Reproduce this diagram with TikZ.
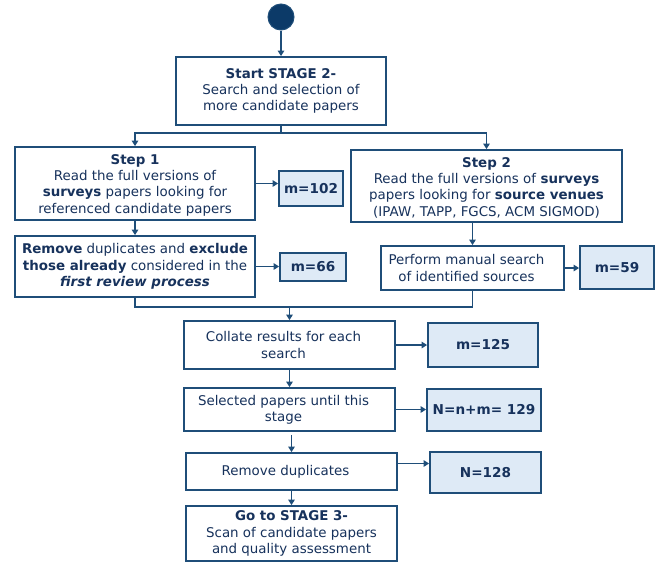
\documentclass[tikz,border=0pt]{standalone}
\usepackage{fontspec}
\setmainfont{DejaVu Sans}
\usetikzlibrary{arrows.meta}
\definecolor{lineblue}{RGB}{31,78,121}
\definecolor{navytext}{RGB}{23,50,92}
\definecolor{countfill}{RGB}{222,234,246}
\definecolor{dotfill}{RGB}{12,58,104}
\tikzset{
  flowbox/.style={draw=lineblue, line width=1.8pt, fill=white, text=navytext,
    align=center, inner sep=0pt, font=\fontsize{13.4}{16.3}\selectfont},
  countbox/.style={flowbox, fill=countfill, font=\fontsize{13.6}{16}\selectfont\bfseries},
  link/.style={draw=lineblue, line width=1.7pt},
  arr/.style={link, -{Triangle[width=6.5pt,length=5.5pt]}},
}
% pushes a centred line a little to the left
\newcommand{\leftnudge}{\hspace*{12pt}}
\begin{document}
\begin{tikzpicture}[x=1pt,y=-1pt]
\useasboundingbox (0,0) rectangle (656,563);

% start marker
\node[circle, draw=lineblue, line width=1pt, fill=dotfill, minimum size=26pt, inner sep=0pt] (dot) at (281,17) {};

% main flow boxes
\node[flowbox, minimum width=210pt, minimum height=68pt] (start) at (281,91)
  {\textbf{Start STAGE 2-}\\Search and selection of\\more candidate papers};
\node[flowbox, minimum width=240pt, minimum height=73pt] (step1) at (135,183.5)
  {\rule{0pt}{13pt}\textbf{Step 1}\\Read the full versions of\\\textbf{surveys} papers looking for\\referenced candidate papers};
\node[flowbox, minimum width=271pt, minimum height=72pt] (step2) at (486.5,186)
  {\rule{0pt}{13pt}\textbf{Step 2}\\Read the full versions of \textbf{surveys}\\papers looking for \textbf{source venues}\\(IPAW, TAPP, FGCS, ACM SIGMOD)};
\node[flowbox, minimum width=240pt, minimum height=61pt] (remove) at (135,266.5)
  {\textbf{Remove} duplicates and \textbf{exclude}\\\textbf{those already} considered in the\\\textbf{\textit{first review process}}};
\node[flowbox, minimum width=183pt, minimum height=44pt] (perform) at (472.5,268)
  {Perform manual search\leftnudge\\of identified sources\leftnudge};
\node[flowbox, minimum width=211pt, minimum height=48pt] (collate) at (289.5,345)
  {Collate results for each\leftnudge\\search\leftnudge};
\node[flowbox, minimum width=211pt, minimum height=43pt] (selected) at (289.5,409.5)
  {Selected papers until this\leftnudge\\stage\leftnudge};
\node[flowbox, minimum width=211pt, minimum height=37pt] (remdup) at (291.5,471.5)
  {Remove duplicates\leftnudge};
\node[flowbox, minimum width=211pt, minimum height=55pt] (goto) at (291.5,533.5)
  {\textbf{Go to STAGE 3-}\\Scan of candidate papers\\and quality assessment};

% counts
\node[countbox, minimum width=64pt, minimum height=35pt] (m102) at (311,188.5) {m=102};
\node[countbox, minimum width=66pt, minimum height=28pt] (m66) at (313,267) {m=66};
\node[countbox, minimum width=74pt, minimum height=43pt] (m59) at (617,267.5) {m=59};
\node[countbox, minimum width=110pt, minimum height=44pt] (m125) at (483,345) {m=125};
\node[countbox, minimum width=114pt, minimum height=42pt] (n129) at (484,410) {N=n+m= 129};
\node[countbox, minimum width=111pt, minimum height=41pt] (n128) at (485.5,472.5) {N=128};

\coordinate (splity) at (0,133);
\coordinate (mergey) at (0,307);

% connectors
\draw[arr] (dot.south) -- (start.north);
\draw[link] (start.south) -- (start.south |- splity);
\draw[arr] (start.south |- splity) -| (step1.north);
\draw[arr] (start.south |- splity) -| (step2.north);
\draw[arr] (step1.south) -- (remove.north);
\draw[arr] (step2.south -| perform.north) -- (perform.north);
\draw[link] (remove.south) -- (remove.south |- mergey) -- (perform.south |- mergey) -- (perform.south);
\draw[arr] (collate.north |- mergey) -- (collate.north);
\draw[arr] (collate.south) -- (selected.north);
\draw[arr] ([yshift=-3pt]remdup.north |- selected.south) -- (remdup.north);
\draw[arr] (remdup.south) -- (goto.north);

\draw[arr] (step1.east) -- (step1.east -| m102.west);
\draw[arr] (remove.east) -- (remove.east -| m66.west);
\draw[arr] (perform.east) -- (perform.east -| m59.west);
\draw[arr] (collate.east) -- (collate.east -| m125.west);
\draw[arr] (selected.east) -- (selected.east -| n129.west);
\draw[arr] ([yshift=8pt]remdup.east) -- ([yshift=8pt]remdup.east -| n128.west);
\end{tikzpicture}
\end{document}
